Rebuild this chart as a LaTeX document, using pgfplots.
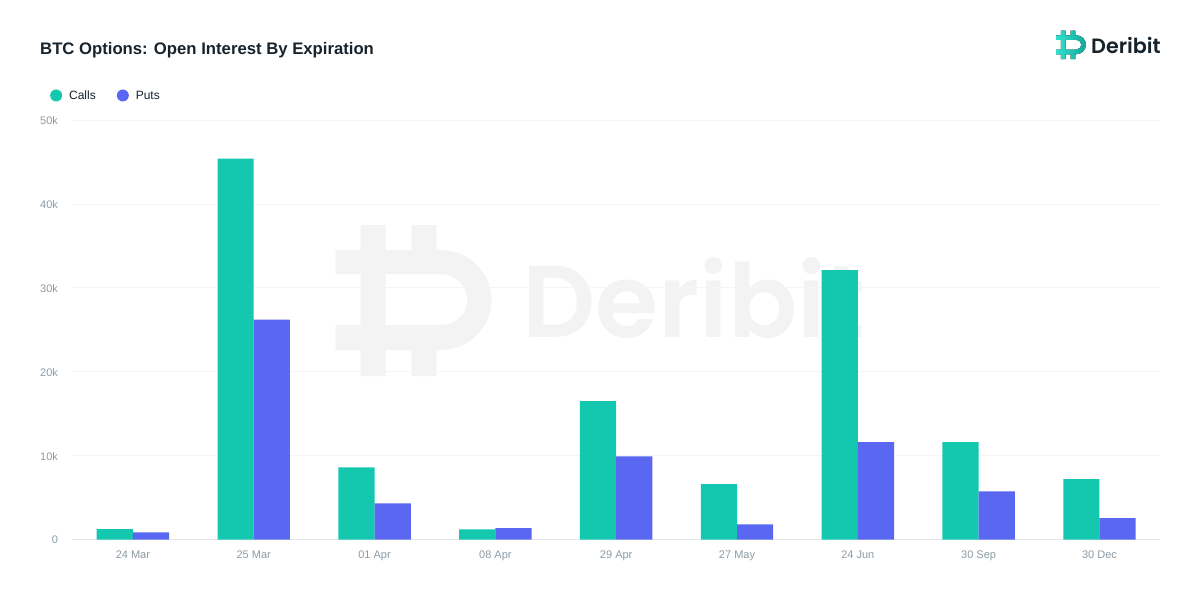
\documentclass[border=0pt]{standalone}
\usepackage{fontspec}
\setmainfont{Liberation Sans}
\newfontfamily\logofont{Poppins SemiBold}
\usepackage{pgfplots}
\pgfplotsset{compat=1.18}
\definecolor{calls}{HTML}{14C8B0}
\definecolor{puts}{HTML}{5A67F0}
\definecolor{tickc}{HTML}{8C9BA5}
\definecolor{gridc}{HTML}{F3F5F6}
\definecolor{basec}{HTML}{E4E8EB}
\definecolor{ink}{HTML}{17232C}
\definecolor{wm}{HTML}{F3F3F3}
\definecolor{logoa}{HTML}{30E0CE}
\definecolor{logob}{HTML}{12A898}
% Deribit symbol, in a 156 x 151 box, origin at top left, y downwards
\newcommand{\logopath}{%
 (25,0)--(50,0)--(50,25)--(76,25)--(76,0)--(101,0)--(101,25)--(105,25)
 .. controls (133,25) and (156,47) .. (156,75) .. controls (156,103) and (133,125) .. (105,125)
 --(101,125)--(101,151)--(76,151)--(76,125)--(50,125)--(50,151)--(25,151)--(25,125)--(0,125)--(0,100)--(25,100)--(25,49)--(0,49)--(0,25)--(25,25)--cycle
 (50,49)--(105,49) .. controls (120,49) and (132,61) .. (132,75) .. controls (132,89) and (120,100) .. (105,100) --(50,100)--cycle}
\begin{document}
\begin{tikzpicture}[x=1pt,y=1pt]
\path[use as bounding box,fill=white] (0,0) rectangle (1200,-600);
% watermark
\begin{scope}[shift={(335.5,-225)},x=1pt,y=-1pt]
\fill[wm,even odd rule] \logopath;
\end{scope}
\node[anchor=base west,inner sep=0pt,text=wm,font={\logofont\fontsize{102}{102}\selectfont}] at (522.5,-337) {Deribit};
\begin{axis}[
  at={(72.5pt,-539.5pt)},anchor=south west,
  scale only axis,width=1087.5pt,height=419.5pt,
  xmin=-0.5,xmax=8.5,ymin=0,ymax=50000,
  axis line style={draw=none},
  xtick={0,1,2,3,4,5,6,7,8},
  xticklabels={24 Mar,25 Mar,01 Apr,08 Apr,29 Apr,27 May,24 Jun,30 Sep,30 Dec},
  ytick={0,10000,20000,30000,40000,50000},
  yticklabels={0,10k,20k,30k,40k,50k},
  scaled y ticks=false,
  major tick length=0pt,
  ymajorgrids,
  grid style={gridc,line width=0.8pt},
  extra y ticks={0},extra y tick labels={},
  extra y tick style={grid style={basec,line width=0.9pt}},
  tick label style={text=tickc,font=\fontsize{11}{13}\selectfont},
  yticklabel style={anchor=east,xshift=-11pt,yshift=-0.5pt},
  xticklabel style={anchor=base,yshift=-19pt},
  ybar,
  bar width=36.2pt,
  legend columns=2,
  legend style={draw=none,fill=none,at={(-0.0235,1.0585)},anchor=west,
    font=\fontsize{12}{14}\selectfont,text=ink,
    /tikz/every odd column/.append style={column sep=5pt},
    /tikz/every even column/.append style={column sep=19pt}},
  legend image code/.code={\fill[#1] (0pt,0pt) circle[radius=6pt];},
]
\addplot[draw=none,fill=calls,bar shift=-18.1pt] coordinates {
 (0,1250) (1,45400) (2,8600) (3,1200) (4,16500) (5,6600) (6,32100) (7,11600) (8,7200)};
\addlegendentry{Calls\strut}
\addplot[draw=none,fill=puts,bar shift=18.1pt] coordinates {
 (0,850) (1,26200) (2,4300) (3,1350) (4,9900) (5,1800) (6,11600) (7,5750) (8,2550)};
\addlegendentry{Puts\strut}
\end{axis}
\node[anchor=base west,inner sep=0pt,text=ink,font={\bfseries\fontsize{16.7}{20}\selectfont}] at (40,-54) {BTC Options: Open Interest By Expiration};
% header logo
\begin{scope}[shift={(1056,-30.5)},x=0.192pt,y=-0.19pt]
\fill[left color=logoa,right color=logob,even odd rule] \logopath;
\end{scope}
\node[anchor=base west,inner sep=0pt,text=ink,font={\logofont\fontsize{20.7}{21}\selectfont}] at (1091,-53) {Deribit};
\end{tikzpicture}
\end{document}
